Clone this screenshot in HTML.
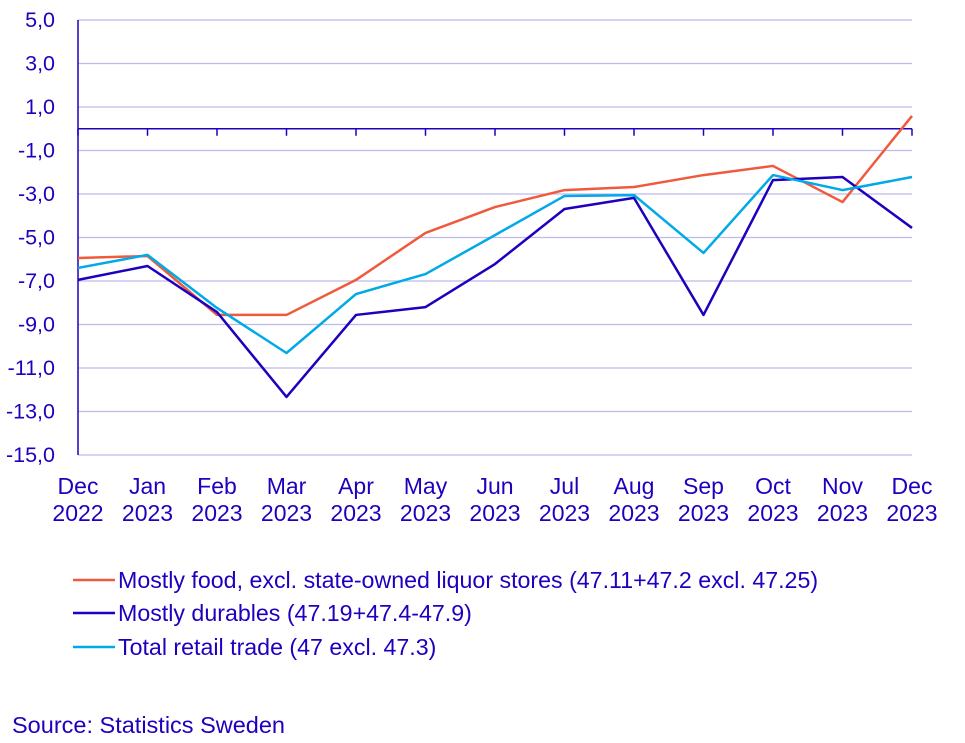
<!DOCTYPE html>
<html><head><meta charset="utf-8"><style>
body{margin:0;background:#fff;}
svg{display:block;font-family:"Liberation Sans",sans-serif;}
</style></head><body>
<svg id="chart" width="965" height="743">
<g id="grid"></g>
<g id="yticks"></g>
<g id="xticks"></g>
<g id="series"></g>
<g id="legend"></g>
<text x="12" y="733" font-size="23.5" fill="#1e00be">Source: Statistics Sweden</text>
</svg>
<script>
const months = ["Dec","Jan","Feb","Mar","Apr","May","Jun","Jul","Aug","Sep","Oct","Nov","Dec"];
const years = ["2022","2023","2023","2023","2023","2023","2023","2023","2023","2023","2023","2023","2023"];
const yTicks = [5,3,1,-1,-3,-5,-7,-9,-11,-13,-15];
const foodValues = [-5.94,-5.85,-8.56,-8.56,-6.95,-4.79,-3.6,-2.82,-2.68,-2.13,-1.71,-3.37,0.59];
const durablesValues = [-6.95,-6.31,-8.43,-12.33,-8.56,-8.2,-6.22,-3.69,-3.18,-8.56,-2.36,-2.22,-4.56];
const totalValues = [-6.4,-5.8,-8.24,-10.31,-7.6,-6.68,-4.89,-3.09,-3.05,-5.71,-2.13,-2.82,-2.22];
const seriesNames = ["Mostly food, excl. state-owned liquor stores (47.11+47.2 excl. 47.25)","Mostly durables (47.19+47.4-47.9)","Total retail trade (47 excl. 47.3)"];

const NS="http://www.w3.org/2000/svg";
const x0=78,x1=912,yTop=20,yBot=455,vMax=5,vMin=-15;
const xs=i=>x0+(x1-x0)*i/(months.length-1);
const ys=v=>yTop+(vMax-v)*(yBot-yTop)/(vMax-vMin);
function mk(tag,attrs,parent){const e=document.createElementNS(NS,tag);for(const k in attrs)e.setAttribute(k,attrs[k]);parent.appendChild(e);return e;}
const grid=document.getElementById('grid'),yg=document.getElementById('yticks'),xg=document.getElementById('xticks'),sg=document.getElementById('series'),lg=document.getElementById('legend');
yTicks.forEach(v=>{
  const l=mk('line',{x1:x0,x2:x1,y1:ys(v),y2:ys(v),stroke:'#bcbcec','stroke-width':1.3},grid);
  
  
  const t=mk('text',{x:55,y:ys(v)+7,'text-anchor':'end','font-size':21.5,fill:'#1e00be'},yg);
  t.textContent=v.toFixed(1).replace('.',',');
  
  
});
mk('line',{x1:x0,x2:x0,y1:yTop,y2:yBot,stroke:'#1e00be','stroke-width':1.5},yg);
mk('line',{x1:x0,x2:x1,y1:ys(0),y2:ys(0),stroke:'#1e00be','stroke-width':1.5},xg);
months.forEach((m,i)=>{
  mk('line',{x1:xs(i),x2:xs(i),y1:ys(0),y2:ys(0)+7,stroke:'#1e00be','stroke-width':1.5},xg);
  const t=mk('text',{x:xs(i),y:494,'text-anchor':'middle','font-size':23,fill:'#1e00be'},xg);
  t.textContent=m;
  
  
  const t2=mk('text',{x:xs(i),y:521,'text-anchor':'middle','font-size':23,fill:'#1e00be'},xg);
  t2.textContent=years[i];
  
  
});
const allSeries=[[foodValues,'#f05a3c','food-line'],[durablesValues,'#1e00be','durables-line'],[totalValues,'#00aae6','total-line']];
allSeries.forEach(([vals,col,name])=>{
  const p=mk('polyline',{points:vals.map((v,i)=>xs(i)+','+ys(v)).join(' '),fill:'none',stroke:col,'stroke-width':2.5,'stroke-linejoin':'round'},sg);
  
  
});
const ly=[580,613,647];
allSeries.forEach(([vals,col,name],k)=>{
  const g=mk('g',{},lg);
  
  
  mk('line',{x1:73,x2:115,y1:ly[k],y2:ly[k],stroke:col,'stroke-width':2.5},g);
  const t=mk('text',{x:118,y:ly[k]+8,'font-size':23.2,fill:'#1e00be'},g);
  t.textContent=seriesNames[k];
});
</script>
</body></html>
